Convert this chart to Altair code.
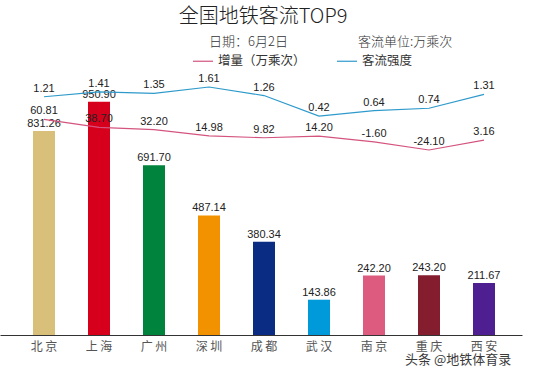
import altair as alt
import pandas as pd

cities = ["北京", "上海", "广州", "深圳", "成都", "武汉", "南京", "重庆", "西安"]
ridership = [831.26, 950.90, 691.70, 487.14, 380.34, 143.86, 242.20, 243.20, 211.67]
increase = [60.81, 38.70, 32.20, 14.98, 9.82, 14.20, -1.60, -24.10, 3.16]
intensity = [1.21, 1.41, 1.35, 1.61, 1.26, 0.42, 0.64, 0.74, 1.31]
bar_colors = ["#D8BF7A", "#D6001C", "#00843D", "#F39200", "#0B2C83",
              "#009ADA", "#DE5B80", "#841D2E", "#4E1F91"]
series_names = ["增量（万乘次）", "客流强度"]
series_colors = ["#D4547E", "#2E9ACB"]
title_text = ["全国地铁客流TOP9"]
date_text = ["日期：6月2日"]
unit_text = ["客流单位:万乘次"]
mark_text = ["头条 @地铁体育录"]

CJK = "Noto Sans CJK SC"
NUM = "Liberation Sans"

df = pd.DataFrame({
    "city": cities,
    "ridership": ridership,
    "increase": increase,
    "intensity": intensity,
    "bcolor": bar_colors,
})
df["r_lbl"] = [f"{v:.2f}" for v in ridership]
df["i_lbl"] = [f"{v:.2f}" for v in increase]
df["s_lbl"] = [f"{v:.2f}" for v in intensity]
df["s1"] = series_names[0]
df["s2"] = series_names[1]

xenc = alt.X(
    "city:N", sort=cities, title=None,
    scale=alt.Scale(paddingInner=0.6, paddingOuter=0.5455, align=0.55),
    axis=alt.Axis(labelAngle=0, ticks=False, domainColor="#333333", domainWidth=1,
                  labelFont=CJK, labelFontSize=12, labelColor="#555555", labelPadding=6,
                  labelExpr="substring(datum.label,0,1) + ' ' + substring(datum.label,1)"),
)

base = alt.Chart(df)

ybar = alt.Y("ridership:Q", scale=alt.Scale(domain=[0, 1080], nice=False, zero=True), axis=None)
bars = base.mark_bar().encode(x=xenc, y=ybar, fill=alt.Fill("bcolor:N", scale=None, legend=None))
bar_lbl = base.mark_text(baseline="bottom", dy=-2, font=NUM, fontSize=11, color="#222222").encode(
    x=xenc, y=ybar, text="r_lbl:N")

color_scale = alt.Scale(domain=series_names, range=series_colors)
legend = alt.Legend(title=None, orient="none", legendX=192, legendY=-20, direction="horizontal",
                    symbolType="stroke", symbolSize=400, symbolStrokeWidth=1.2,
                    labelFont=CJK, labelFontSize=12.5, labelColor="#333333",
                    columnPadding=28, labelOffset=4)

yinc = alt.Y("increase:Q", scale=alt.Scale(domain=[-535.7, 197.2], nice=False, zero=False), axis=None)
inc_line = base.mark_line(strokeWidth=1.2).encode(
    x=xenc, y=yinc, color=alt.Color("s1:N", scale=color_scale, legend=legend))
inc_lbl = base.mark_text(baseline="bottom", dy=-3, font=NUM, fontSize=11, color="#222222").encode(
    x=xenc, y=yinc, text="i_lbl:N")

yint = alt.Y("intensity:Q", scale=alt.Scale(domain=[-8.55, 2.307], nice=False, zero=False), axis=None)
int_line = base.mark_line(strokeWidth=1.2).encode(
    x=xenc, y=yint, color=alt.Color("s2:N", scale=color_scale, legend=legend))
int_lbl = base.mark_text(baseline="bottom", dy=-3, font=NUM, fontSize=11, color="#222222").encode(
    x=xenc, y=yint, text="s_lbl:N")

title = alt.Chart(pd.DataFrame({"t": title_text})).mark_text(
    font=CJK, fontSize=20, fontWeight=300, color="#222222", align="center", baseline="middle").encode(
    x=alt.value(263), y=alt.value(-53), text="t:N")
date = alt.Chart(pd.DataFrame({"t": date_text})).mark_text(
    font=CJK, fontSize=13, fontWeight=300, color="#333333", align="left", baseline="middle").encode(
    x=alt.value(209), y=alt.value(-28), text="t:N")
unit = alt.Chart(pd.DataFrame({"t": unit_text})).mark_text(
    font=CJK, fontSize=13, fontWeight=300, color="#333333", align="left", baseline="middle").encode(
    x=alt.value(358), y=alt.value(-28), text="t:N")
wm = alt.Chart(pd.DataFrame({"t": mark_text})).mark_text(
    font=CJK, fontSize=13, color="#3a3a3a", align="left", baseline="middle").encode(
    x=alt.value(405), y=alt.value(290), text="t:N")

chart = alt.layer(
    bars, bar_lbl, inc_line, inc_lbl, int_line, int_lbl, title, date, unit, wm
).resolve_scale(y="independent").properties(
    width=522, height=265,
    autosize=alt.AutoSizeParams(type="none"),
    padding={"left": 0, "top": 70, "right": 18, "bottom": 41},
).configure(background="white", view=alt.ViewConfig(stroke=None))

chart.save("out.html", embed_options={"renderer": "svg", "actions": False})
